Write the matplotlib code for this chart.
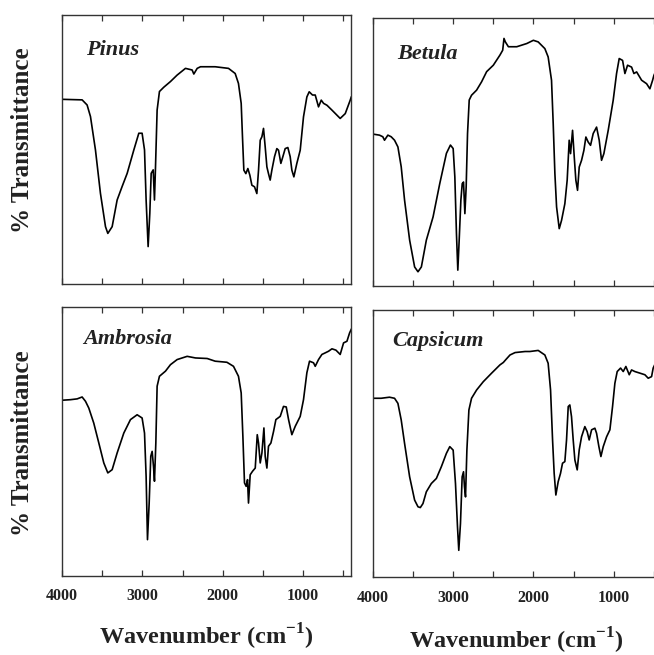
import numpy as np
import matplotlib.pyplot as plt

# IR spectra: wavenumber (cm-1) and transmittance
# (arbitrary units, 0 = bottom of the panel, 100 = top)
pinus_wn = [4000, 3751, 3689, 3647, 3585, 3523, 3460, 3431, 3377, 3315, 3253, 3190, 3107,
            3045, 3004, 2974, 2954, 2929, 2908, 2891, 2866, 2850, 2837, 2817, 2788, 2734,
            2651, 2568, 2464, 2381, 2360, 2318, 2277, 2094, 1928, 1845, 1804, 1770, 1754,
            1737, 1712, 1687, 1662, 1637, 1604, 1575, 1554, 1533, 1512, 1492, 1471, 1450,
            1430, 1409, 1388, 1355, 1326, 1305, 1276, 1251, 1222, 1189, 1160, 1139, 1114,
            1077, 1035, 994, 952, 923, 882, 848, 807, 773, 744, 702, 640, 537, 474, 412, 400]
pinus_t = [68.7, 68.5, 66.6, 62.3, 49.9, 33.8, 21.4, 18.9, 21.4, 31.3, 36.3, 41.2, 49.9,
           56.1, 56.1, 49.9, 31.3, 14.0, 26.4, 41.2, 42.5, 31.3, 43.7, 64.7, 71.6, 73.2,
           75.3, 77.7, 80.2, 79.6, 78.1, 80.2, 80.8, 80.8, 80.2, 78.3, 74.6, 67.2, 54.8,
           42.4, 41.1, 43.0, 40.5, 36.8, 36.2, 33.7, 42.4, 53.5, 54.8, 57.9, 51.0, 43.6,
           41.1, 38.7, 42.4, 47.4, 50.4, 49.8, 44.9, 47.4, 50.4, 50.8, 47.4, 42.4, 39.9,
           44.9, 49.8, 62.2, 69.6, 71.5, 70.3, 70.3, 65.9, 68.4, 67.2, 66.5, 64.7, 61.6,
           63.4, 68.4, 69.5]

betula_wn = [4000, 3917, 3875, 3854, 3812, 3771, 3729, 3687, 3646, 3604, 3541, 3479, 3437,
             3395, 3333, 3249, 3166, 3083, 3033, 2999, 2978, 2958, 2941, 2924, 2903, 2886,
             2870, 2853, 2837, 2820, 2799, 2770, 2707, 2645, 2582, 2499, 2416, 2382, 2366,
             2349, 2311, 2207, 2082, 2000, 1940, 1857, 1816, 1774, 1753, 1732, 1711, 1678,
             1649, 1608, 1579, 1554, 1537, 1512, 1491, 1471, 1450, 1429, 1400, 1371, 1346,
             1317, 1288, 1255, 1213, 1180, 1151, 1122, 1068, 1006, 964, 931, 889, 860, 827,
             777, 748, 714, 652, 590, 549, 515, 499, 480]
betula_t = [56.8, 56.4, 55.8, 54.5, 56.4, 55.8, 54.5, 52.0, 44.6, 32.1, 17.2, 7.2, 5.4,
            7.2, 17.2, 25.9, 38.3, 49.6, 52.7, 51.4, 40.8, 19.7, 6.0, 17.2, 32.1, 38.3,
            38.9, 27.1, 37.0, 57.0, 69.5, 71.3, 73.2, 76.3, 80.1, 82.5, 86.3, 88.1, 92.5,
            91.2, 89.4, 89.4, 90.6, 91.8, 91.2, 88.7, 85.6, 76.9, 60.7, 42.0, 29.6, 21.5,
            24.6, 30.8, 39.6, 54.5, 49.5, 58.2, 48.3, 39.6, 35.8, 44.5, 47.0, 50.7, 55.7,
            53.8, 52.6, 57.0, 59.4, 54.5, 47.0, 49.5, 58.2, 69.4, 79.4, 85.0, 84.3, 79.4,
            82.5, 81.8, 79.4, 80.0, 76.9, 75.6, 73.7, 76.9, 78.7, 80.0]

ambrosia_wn = [4000, 3896, 3813, 3751, 3709, 3668, 3606, 3543, 3481, 3431, 3377, 3315, 3232,
               3149, 3066, 3004, 2974, 2954, 2937, 2916, 2896, 2879, 2862, 2850, 2833, 2817,
               2788, 2713, 2651, 2568, 2443, 2339, 2194, 2094, 1948, 1866, 1804, 1770, 1749,
               1729, 1708, 1691, 1679, 1658, 1629, 1595, 1570, 1554, 1533, 1512, 1487, 1471,
               1450, 1430, 1400, 1367, 1338, 1284, 1243, 1209, 1180, 1139, 1097, 1035, 994,
               952, 919, 869, 848, 807, 765, 723, 682, 640, 590, 537, 495, 453, 420, 400]
ambrosia_t = [65.2, 65.4, 65.7, 66.4, 64.8, 62.3, 56.7, 49.3, 41.9, 38.2, 39.4, 45.6, 53.0,
              58.0, 59.8, 58.6, 53.0, 36.9, 13.4, 27.0, 44.4, 46.2, 40.6, 35.1, 49.3, 70.4,
              74.1, 76.0, 78.4, 80.3, 81.5, 80.9, 80.7, 79.7, 79.3, 77.8, 74.1, 67.9, 51.8,
              34.5, 33.2, 35.7, 27.0, 37.5, 38.8, 40.0, 52.4, 49.3, 41.9, 45.6, 54.9, 44.3,
              40.0, 48.1, 49.3, 53.6, 58.0, 59.2, 62.9, 62.7, 58.0, 52.4, 55.5, 59.2, 65.4,
              75.4, 79.7, 79.1, 77.8, 80.3, 82.2, 82.8, 83.4, 84.3, 83.8, 82.2, 86.5, 87.1,
              90.2, 91.5]

capsicum_wn = [4000, 3896, 3792, 3729, 3687, 3646, 3604, 3541, 3479, 3437, 3408, 3375, 3333,
               3271, 3208, 3146, 3083, 3041, 2999, 2970, 2945, 2929, 2908, 2887, 2870, 2858,
               2845, 2828, 2803, 2770, 2707, 2624, 2520, 2416, 2374, 2345, 2291, 2228, 2103,
               2044, 1940, 1857, 1816, 1786, 1761, 1741, 1720, 1691, 1662, 1637, 1608, 1587,
               1566, 1546, 1525, 1504, 1483, 1454, 1429, 1400, 1359, 1330, 1305, 1275, 1234,
               1213, 1184, 1159, 1130, 1088, 1047, 1014, 985, 956, 914, 881, 848, 806, 777,
               736, 673, 611, 570, 528, 508, 480]
capsicum_t = [66.9, 66.9, 67.3, 66.9, 65.0, 58.8, 50.0, 37.5, 28.8, 26.3, 26.0, 27.5, 31.9,
              35.0, 36.9, 41.3, 46.3, 48.8, 47.5, 35.0, 18.8, 10.0, 20.0, 37.5, 39.4, 33.8,
              30.0, 47.5, 62.5, 66.9, 70.0, 73.1, 76.3, 79.4, 80.3, 81.3, 83.1, 84.0, 84.4,
              84.4, 84.8, 83.1, 80.0, 70.0, 51.3, 38.8, 30.7, 35.7, 38.8, 42.6, 43.2, 51.3,
              63.8, 64.4, 60.0, 51.3, 43.8, 40.1, 47.6, 52.5, 56.3, 54.4, 51.3, 55.1, 55.7,
              53.8, 48.8, 45.1, 48.8, 52.5, 55.1, 63.8, 72.5, 76.9, 78.2, 76.9, 78.8, 75.7,
              77.5, 76.9, 76.3, 75.7, 74.4, 75.0, 78.2, 80.0]

names = ["Pinus", "Betula", "Ambrosia", "Capsicum"]
tick_vals = [4000, 3000, 2000, 1000]

serif = ["Liberation Serif", "DejaVu Serif"]
plt.rcParams["mathtext.fontset"] = "custom"
plt.rcParams["mathtext.rm"] = "Liberation Serif:bold"
plt.rcParams["mathtext.bf"] = "Liberation Serif:bold"

fig = plt.figure(figsize=(6.54, 6.55), dpi=100)

# axes boxes in figure fractions (the right column runs off the page like in the scan)
boxes = [[0.095, 0.566, 0.442, 0.411],
         [0.570, 0.563, 0.442, 0.409],
         [0.095, 0.121, 0.442, 0.411],
         [0.570, 0.119, 0.442, 0.408]]
label_pos = [(0.083, 0.85), (0.083, 0.847), (0.073, 0.859), (0.066, 0.866)]
spectra = [(pinus_wn, pinus_t), (betula_wn, betula_t),
           (ambrosia_wn, ambrosia_t), (capsicum_wn, capsicum_t)]

for i in range(4):
    ax = fig.add_axes(boxes[i])
    wn, t = spectra[i]
    ax.plot(wn, t, color="black", lw=1.2)
    ax.set_xlim(4000, 400)
    ax.set_ylim(0, 100)
    ax.set_yticks([])
    ax.set_xticks(tick_vals)
    ax.set_xticks(np.arange(3500, 400, -1000), minor=True)
    ax.tick_params(axis="x", which="both", direction="in", top=True, length=4,
                   width=0.9, color="#333333")
    if i < 2:
        ax.set_xticklabels([])
    else:
        ax.set_xticklabels([str(v) for v in tick_vals], family=serif,
                           fontweight="bold", fontsize=11.5, color="#222222")
        ax.tick_params(axis="x", pad=9)
    for s in ax.spines.values():
        s.set_linewidth(1.0)
        s.set_color("#333333")
    ax.text(label_pos[i][0], label_pos[i][1], names[i], transform=ax.transAxes,
            family=serif, fontweight="bold", style="italic", fontsize=16,
            color="#222222")

# axis titles
for y in [0.786, 0.323]:
    fig.text(0.034, y, "% Transmittance", rotation=90, ha="center", va="center",
             family=serif, fontweight="bold", fontsize=18, color="#222222")
fig.text(0.315, 0.028, r"Wavenumber (cm$^{\mathbf{-1}}$)", ha="center", va="center",
         family=serif, fontweight="bold", fontsize=17.5, color="#222222")
fig.text(0.790, 0.022, r"Wavenumber (cm$^{\mathbf{-1}}$)", ha="center", va="center",
         family=serif, fontweight="bold", fontsize=17.5, color="#222222")

plt.savefig("out.png", dpi=100)
